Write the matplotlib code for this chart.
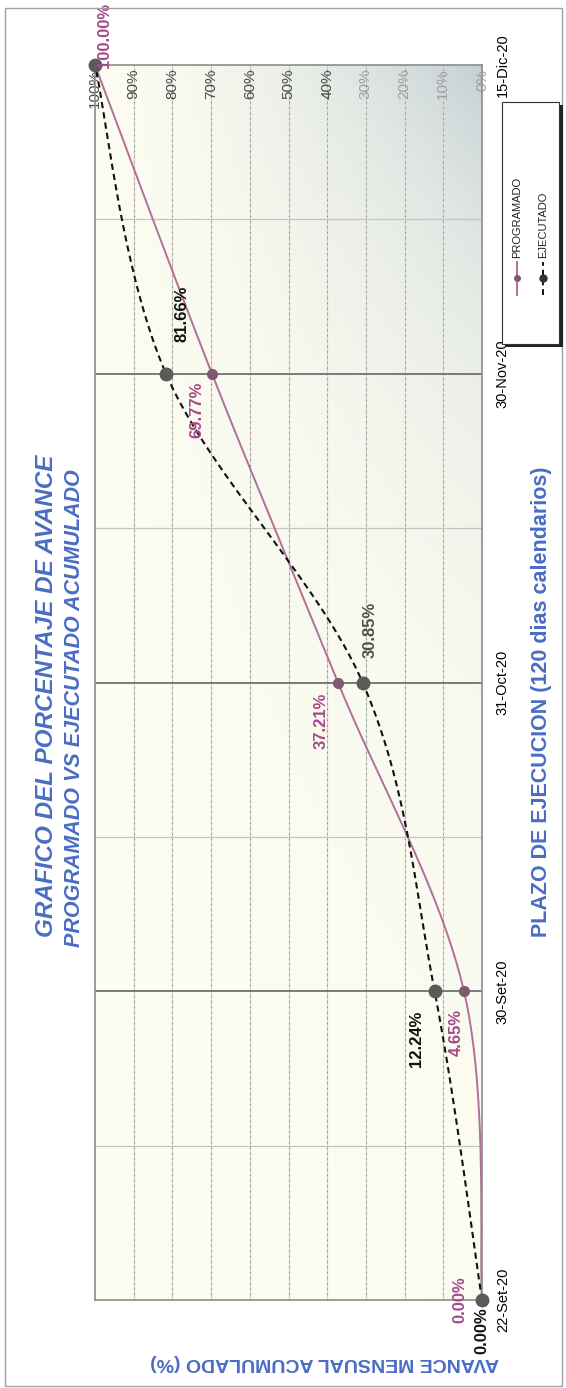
import numpy as np
import matplotlib.pyplot as plt
from matplotlib.patches import Rectangle
from matplotlib.lines import Line2D

plt.rcParams['font.family'] = ['Liberation Sans', 'DejaVu Sans']

# datos
fechas = ['22-Set-20', '30-Set-20', '31-Oct-20', '30-Nov-20', '15-Dic-20']
programado = [0.00, 4.65, 37.21, 69.77, 100.00]
ejecutado = [0.00, 12.24, 30.85, 81.66, 100.00]
ticks_pct = [0, 10, 20, 30, 40, 50, 60, 70, 80, 90, 100]

# offsets de las etiquetas (pixeles)
off_prog = [(-22, 0), (-8, -41), (-17, -38), (-15, -36), (10, 30)]
off_ejec = [(0, -31), (-18, -48), (8, 53), (16, 60), None]

W, H = 566, 1388
azul = '#4a6cc4'
morado = '#a4488a'
linea_prog = '#b0709a'


def suavizar(y, n=60):
    # curva suavizada tipo excel (bezier con tangentes catmull-rom)
    p = np.column_stack([np.arange(len(y)), y]).astype(float)
    ext = np.vstack([p[0], p, p[-1]])
    xs, ys = [], []
    t = np.linspace(0, 1, n)
    for i in range(len(p) - 1):
        p0, p1, p2, p3 = ext[i], ext[i + 1], ext[i + 2], ext[i + 3]
        b1 = p1 + (p2 - p0) / 6
        b2 = p2 - (p3 - p1) / 6
        c = ((1 - t) ** 3)[:, None] * p1 + (3 * (1 - t) ** 2 * t)[:, None] * b1 \
            + (3 * (1 - t) * t ** 2)[:, None] * b2 + (t ** 3)[:, None] * p2
        xs.append(c[:, 0])
        ys.append(c[:, 1])
    return np.concatenate(xs), np.concatenate(ys)


fig = plt.figure(figsize=(W / 100, H / 100), dpi=100)
fig.patch.set_facecolor('white')

# marco de la hoja
fig.add_artist(Rectangle((5 / W, 1 - 1386 / H), 557 / W, 1378 / H, transform=fig.transFigure,
                         fill=False, edgecolor='#a0a0a0', lw=1))

ax = fig.add_axes([95 / W, 1 - 1300 / H, 387 / W, 1235 / H])
ax.set_xlim(100, 0)
ax.set_ylim(0, 4)

# fondo degradado
nx, ny = 200, 400
tx = np.linspace(0, 1, nx)[None, :]
ty = np.linspace(0, 1, ny)[:, None]
w = (tx ** 1.6) * np.exp(-ty / 0.22) * 0.95
crema = np.array([0.99, 0.99, 0.945])
gris = np.array([0.76, 0.81, 0.83])
img = crema[None, None, :] * (1 - w[..., None]) + gris[None, None, :] * w[..., None]
ax.imshow(img, extent=(100, 0, 0, 4), origin='upper', aspect='auto', zorder=0)

# rejilla
for v in ticks_pct[1:-1]:
    ax.axvline(v, color='#d2d2cc', lw=0.9, zorder=1)
    ax.axvline(v, color='#333333', lw=0.6, ls=(0, (1.5, 5)), alpha=0.6, zorder=1)
for k in np.arange(0.5, 4, 1):
    ax.axhline(k, color='#c4c4c0', lw=0.9, zorder=1)
for k in range(1, 4):
    ax.axhline(k, color='#707070', lw=1.3, zorder=1)

for s in ax.spines.values():
    s.set_color('#8c8c8c')
    s.set_linewidth(1.2)

# etiquetas de porcentaje dentro del grafico
for v in ticks_pct:
    ax.text(v, 0.997, f'{v}%', transform=ax.get_xaxis_transform(), rotation=90,
            ha='center', va='top', fontsize=11,
            color='#4a4a4a' if v >= 40 else '#a0a0a0', zorder=2)

# curvas
xp, yp = suavizar(programado)
xe, ye = suavizar(ejecutado)
ax.plot(yp, xp, color=linea_prog, lw=1.4, zorder=3)
ax.plot(ye, xe, color='#111111', lw=1.5, ls=(0, (3, 2)), zorder=3)
ax.plot(programado, range(5), 'o', color='#7b5a72', ms=7, zorder=4, clip_on=False)
ax.plot(ejecutado, range(5), 'o', color='#5a5a5a', ms=9, zorder=4, clip_on=False)

# etiquetas de datos
for i, v in enumerate(programado):
    ax.annotate(f'{v:.2f}%', (v, i), xytext=off_prog[i], textcoords='offset pixels',
                rotation=90, ha='center', va='center', fontsize=12, fontweight='bold',
                color=morado, zorder=5, annotation_clip=False)
for i, v in enumerate(ejecutado):
    if off_ejec[i] is None:
        continue
    ax.annotate(f'{v:.2f}%', (v, i), xytext=off_ejec[i], textcoords='offset pixels',
                rotation=90, ha='center', va='center', fontsize=12, fontweight='bold',
                color='#505050' if i == 2 else '#111111', zorder=5, annotation_clip=False)

# fechas
ax.set_xticks([])
ax.yaxis.tick_right()
ax.set_yticks(range(5))
ax.set_yticklabels(fechas, rotation=90, va='center', fontsize=10.5)
ax.tick_params(axis='y', length=0, pad=10)

# titulos
fig.text(47 / W, 1 - 696 / H, 'GRAFICO DEL PORCENTAJE DE AVANCE', rotation=90, ha='center',
         va='center', fontsize=17.5, fontweight='bold', fontstyle='italic', color=azul)
fig.text(74 / W, 1 - 708 / H, 'PROGRAMADO VS EJECUTADO ACUMULADO', rotation=90, ha='center',
         va='center', fontsize=15.5, fontweight='bold', fontstyle='italic', color=azul)
fig.text(541 / W, 1 - 702 / H, 'PLAZO DE EJECUCION (120 dias calendarios)', rotation=90,
         ha='center', va='center', fontsize=15.5, fontweight='bold', color=azul)
fig.text(325 / W, 1 - 1363 / H, 'AVANCE MENSUAL ACUMULADO (%)', rotation=180,
         ha='center', va='center', fontsize=14, fontweight='bold', color=azul)

# leyenda
fig.add_artist(Rectangle((506 / W, 1 - 347 / H), 57 / W, 242 / H, transform=fig.transFigure,
                         facecolor='#222222', edgecolor='none'))
fig.add_artist(Rectangle((502 / W, 1 - 344 / H), 57 / W, 242 / H, transform=fig.transFigure,
                         facecolor='white', edgecolor='#333333', lw=0.8))
fig.add_artist(Line2D([517 / W, 517 / W], [1 - 295 / H, 1 - 262 / H], transform=fig.transFigure,
                      color=linea_prog, lw=1.4))
fig.add_artist(Line2D([517 / W], [1 - 278 / H], transform=fig.transFigure,
                      color='#7b5a72', marker='o', ms=4, ls='none'))
fig.add_artist(Line2D([543 / W, 543 / W], [1 - 295 / H, 1 - 262 / H], transform=fig.transFigure,
                      color='#111111', lw=1.4, ls=(0, (3, 2))))
fig.add_artist(Line2D([543 / W], [1 - 278 / H], transform=fig.transFigure,
                      color='#333333', marker='o', ms=5, ls='none'))
fig.text(517 / W, 1 - 258 / H, 'PROGRAMADO', rotation=90, ha='center', va='bottom',
         fontsize=8, color='#222222')
fig.text(543 / W, 1 - 258 / H, 'EJECUTADO', rotation=90, ha='center', va='bottom',
         fontsize=8, color='#222222')

plt.savefig('out.png', dpi=100)
